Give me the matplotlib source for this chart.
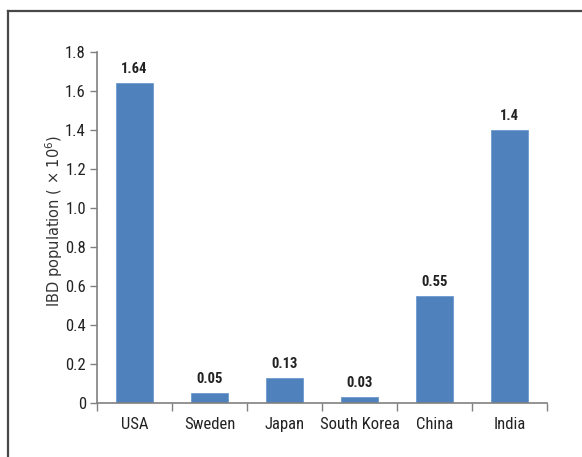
import matplotlib
matplotlib.use("Agg")
import matplotlib.pyplot as plt
from matplotlib.lines import Line2D
import numpy as np

# IBD population by country (millions)
countries = ["USA", "Sweden", "Japan", "South Korea", "China", "India"]
population = [1.64, 0.05, 0.13, 0.03, 0.55, 1.4]
value_labels = ["1.64", "0.05", "0.13", "0.03", "0.55", "1.4"]
yticks = [0, 0.2, 0.4, 0.6, 0.8, 1.0, 1.2, 1.4, 1.6, 1.8]
ytick_labels = ["0", "0.2", "0.4", "0.6", "0.8", "1.0", "1.2", "1.4", "1.6", "1.8"]

narrow = ["Liberation Sans Narrow", "DejaVu Sans Condensed", "Roboto Condensed", "DejaVu Sans"]
axis_grey = "#808080"
bar_blue = "#4F81BD"

fig = plt.figure(figsize=(5.82, 4.57), dpi=100)
ax = fig.add_axes([0.1667, 0.1182, 0.7732, 0.768])

x = np.arange(len(countries))
ax.bar(x, population, width=0.5, color=bar_blue, edgecolor="#6f9ad0", linewidth=0.6)

# value labels above bars
for xi, val, lab in zip(x, population, value_labels):
    ax.annotate(lab, (xi, val), xytext=(0, 5), textcoords="offset points",
                ha="center", va="bottom", fontsize=10.5, family=narrow,
                fontweight="bold", color="#222222")

ax.set_xlim(-0.5, len(countries) - 0.5)
ax.set_ylim(0, 1.8)

ax.set_yticks(yticks)
ax.set_yticklabels(ytick_labels, family=narrow, fontsize=12, color="#222222")
ax.set_xticks(x)
ax.set_xticklabels(countries, family=narrow, fontsize=12, color="#222222")
ax.set_xticks(np.arange(-0.5, len(countries)), minor=True)

ax.tick_params(axis="x", which="major", length=0, pad=10)
ax.tick_params(axis="x", which="minor", length=6, width=1, color=axis_grey, direction="out")
ax.tick_params(axis="y", length=5, width=1, color=axis_grey, direction="out", pad=3)

for side in ["top", "right"]:
    ax.spines[side].set_visible(False)
for side in ["left", "bottom"]:
    ax.spines[side].set_color(axis_grey)
    ax.spines[side].set_linewidth(1.2)

ax.set_ylabel("IBD population ( × 10$^{6}$)", family="DejaVu Sans", fontsize=10.5,
              color="#333333")
ax.yaxis.set_label_coords(-0.072, 0.518)

# outer frame lines (top and left)
fig.add_artist(Line2D([0.0129, 1.0], [0.977, 0.977], transform=fig.transFigure,
                      color="#484848", linewidth=1.6))
fig.add_artist(Line2D([0.0129, 0.0129], [0.0, 0.977], transform=fig.transFigure,
                      color="#484848", linewidth=1.6))

fig.savefig("out.png", dpi=100)
